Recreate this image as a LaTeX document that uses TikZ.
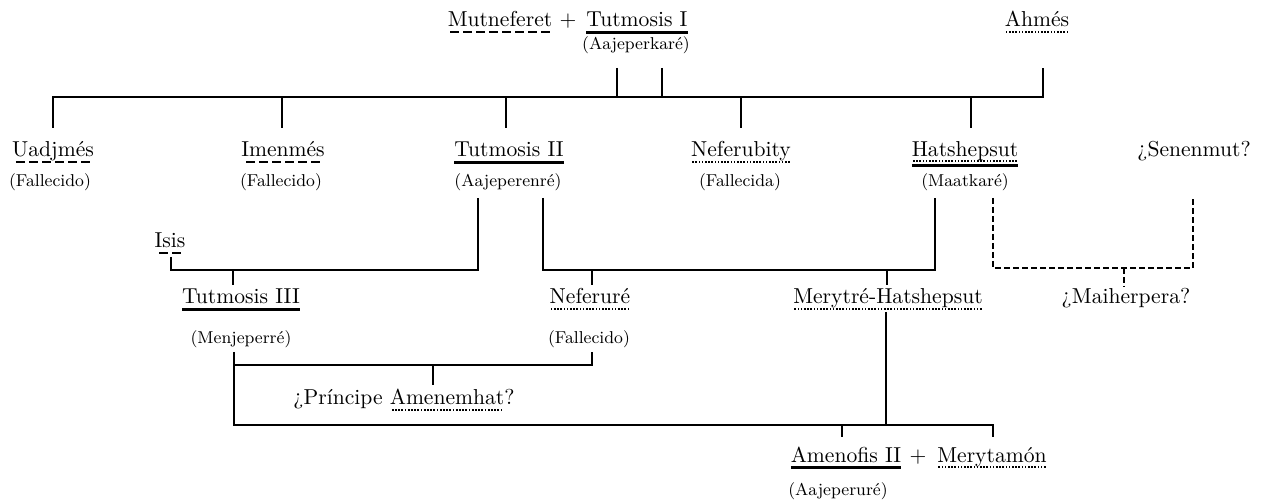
\documentclass[tikz,border=0pt]{standalone}
\newsavebox\ulbox
\newcommand\ulfill[3]{\sbox\ulbox{#3}\dp\ulbox=0pt
  \vtop{\offinterlineskip\hbox{\usebox\ulbox}\kern#1\hbox to\wd\ulbox{#2}}}
\newcommand\Fsolid{\leaders\hrule height 1.7pt\hfill}
\newcommand\Fdash{\cleaders\hbox to 6.5pt{\hfil\vrule width 4.5pt height 1.3pt\hfil}\hfill}
\newcommand\Fdot{\cleaders\hbox to 1.6pt{\hfil\vrule width 0.85pt height 0.85pt\hfil}\hfill}
\newcommand\ulS[1]{\ulfill{1.9pt}{\Fsolid}{#1}}
\newcommand\ulD[1]{\ulfill{1.9pt}{\Fdash}{#1}}
\newcommand\ulT[1]{\ulfill{2.1pt}{\Fdot}{#1}}
\newcommand\ulTS[1]{\sbox\ulbox{#1}\dp\ulbox=0pt
  \vtop{\offinterlineskip\hbox{\usebox\ulbox}\kern1.6pt\hbox to\wd\ulbox{\Fdot}\kern1pt\hbox to\wd\ulbox{\Fsolid}}}
\tikzset{
  nm/.style={inner sep=0pt, anchor=base, font=\fontsize{10.8}{13}\selectfont},
  sub/.style={inner sep=0pt, anchor=base, font=\fontsize{8.6}{10}\selectfont},
  conn/.style={line width=1.25pt},
  dconn/.style={line width=0.85pt, dash pattern=on 3pt off 1.5pt},
}
\begin{document}
\begin{tikzpicture}[x=0.5pt,y=-0.5pt]
\useasboundingbox (0,0) rectangle (1272,501);
% --- top generation
\node[nm] (mut) at (500,27) {\ulD{Mutneferet}};
\node[nm] (plus1) at (568,27) {+};
\node[nm] (tut1) at (637,27) {\ulS{Tutmosis I}};
\node[sub] (aajk) at (636,50) {(Aajeperkaré)};
\node[nm] (ahmes) at (1037,27) {\ulT{Ahmés}};
% --- second generation
\node[nm] (uad) at (53,157) {\ulD{Uadjmés}};
\node[nm] (imen) at (283,157) {\ulD{Imenmés}};
\node[nm] (tut2) at (509,157) {\ulS{Tutmosis II}};
\node[nm] (nefb) at (741,157) {\ulT{Neferubity}};
\node[nm] (hat) at (965,157) {\ulTS{Hatshepsut}};
\node[nm] (sen) at (1194,157) {¿Senenmut?};
\node[sub] (f1) at (50,187) {(Fallecido)};
\node[sub] (f2) at (281,187) {(Fallecido)};
\node[sub] (aajr) at (508,187) {(Aajeperenré)};
\node[sub] (f3) at (740,187) {(Fallecida)};
\node[sub] (maat) at (965,187) {(Maatkaré)};
% --- third generation
\node[nm] (isis) at (170,248) {\ulD{Isis}};
\node[nm] (tut3) at (241,304) {\ulS{Tutmosis III}};
\node[nm] (neferure) at (590,304) {\ulT{Neferuré}};
\node[nm] (merytre) at (888,304) {\ulT{Merytré-Hatshepsut}};
\node[nm] (maiher) at (1126,304) {¿Maiherpera?};
\node[sub] (menj) at (241,344) {(Menjeperré)};
\node[sub] (f4) at (589,344) {(Fallecido)};
% --- fourth generation
\node[nm] (amenemhat) at (404,405) {¿Príncipe \ulT{Amenemhat}?};
\node[nm] (amen) at (846,462) {\ulS{Amenofis II}};
\node[nm] (plus2) at (918,462) {+};
\node[nm] (merytamon) at (992,462) {\ulT{Merytamón}};
\node[sub] (aajru) at (838,495) {(Aajeperuré)};
% --- junction coordinates
\coordinate (t1a) at (617,68);  \coordinate (t1b) at (617,97);
\coordinate (t1c) at (662,68);  \coordinate (t1d) at (662,97);
\coordinate (ahA) at (1043,68); \coordinate (ahB) at (1043,97);
\coordinate (uadT) at (53,128);  \coordinate (uadB) at (53,97);
\coordinate (imT) at (282,128);  \coordinate (imB) at (282,97);
\coordinate (t2T) at (506,128);  \coordinate (t2B) at (506,97);
\coordinate (nbT) at (741,128);  \coordinate (nbB) at (741,97);
\coordinate (htT) at (971,128);  \coordinate (htB) at (971,97);
\coordinate (isD) at (171,257);  \coordinate (isC) at (171,270);
\coordinate (t2L) at (478,198);  \coordinate (t2Lc) at (478,270);
\coordinate (t3a) at (233,270);  \coordinate (t3b) at (233,285);
\coordinate (t2R) at (543,198);  \coordinate (t2Rc) at (543,270);
\coordinate (htL) at (935,198);  \coordinate (htLc) at (935,270);
\coordinate (nfa) at (592,270);  \coordinate (nfb) at (592,285);
\coordinate (mra) at (887,270);  \coordinate (mrb) at (887,285);
\coordinate (htR) at (993,198);  \coordinate (htRc) at (993,268);
\coordinate (snB) at (1193,198); \coordinate (snBc) at (1193,268);
\coordinate (mha) at (1124,268); \coordinate (mhb) at (1124,287);
\coordinate (mjT) at (234,352);  \coordinate (mjC) at (234,365);  \coordinate (mjB) at (234,425);
\coordinate (f4T) at (592,352);  \coordinate (f4C) at (592,365);
\coordinate (pra) at (433,365);  \coordinate (prb) at (433,385);
\coordinate (myT) at (886,312);  \coordinate (myB) at (886,425);
\coordinate (ama) at (842,425);  \coordinate (amb) at (842,437);
\coordinate (mtC) at (993,425);  \coordinate (mtB) at (993,437);
% --- connectors
\draw[conn] (uadT) -- (uadB) -- (ahB) -- (ahA);
\draw[conn] (t1a) -- (t1b);
\draw[conn] (t1c) -- (t1d);
\draw[conn] (imB) -- (imT);
\draw[conn] (t2B) -- (t2T);
\draw[conn] (nbB) -- (nbT);
\draw[conn] (htB) -- (htT);
\draw[conn] (isD) -- (isC) -- (t2Lc) -- (t2L);
\draw[conn] (t3a) -- (t3b);
\draw[conn] (t2R) -- (t2Rc) -- (htLc) -- (htL);
\draw[conn] (nfa) -- (nfb);
\draw[conn] (mra) -- (mrb);
\draw[dconn] (htR) -- (htRc) -- (snBc) -- (snB);
\draw[dconn] (mha) -- (mhb);
\draw[conn] (mjT) -- (mjB) -- (mtC) -- (mtB);
\draw[conn] (mjC) -- (f4C) -- (f4T);
\draw[conn] (pra) -- (prb);
\draw[conn] (myT) -- (myB);
\draw[conn] (ama) -- (amb);
\end{tikzpicture}
\end{document}
